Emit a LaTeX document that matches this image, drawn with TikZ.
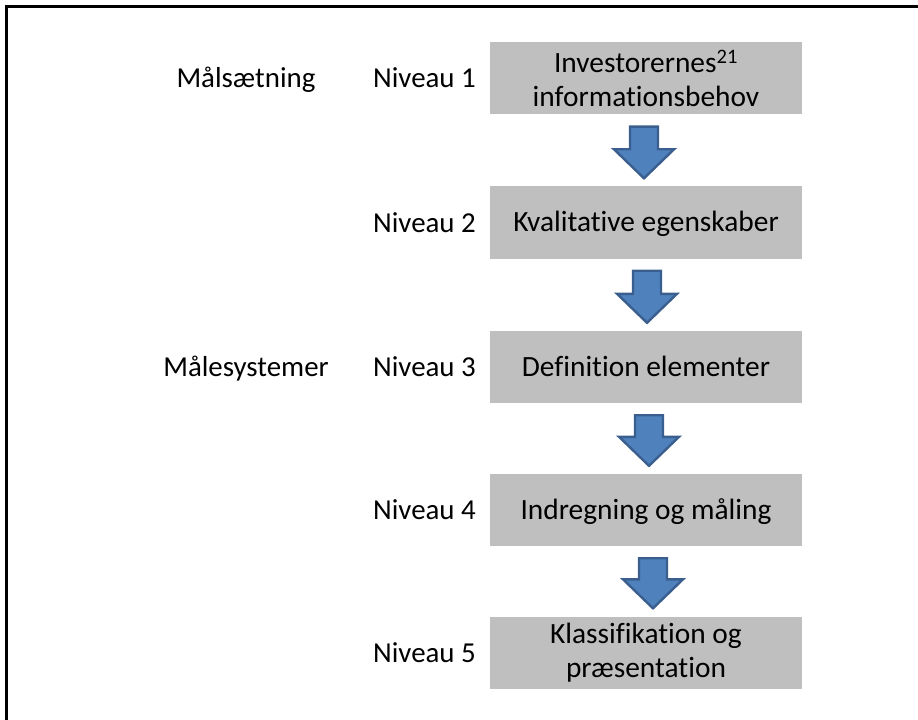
\documentclass[tikz,border=0pt]{standalone}
\usepackage{fontspec}
\setmainfont{Carlito}[Ligatures=NoCommon]
\usetikzlibrary{calc}
\definecolor{boxgray}{HTML}{BFBFBF}
\definecolor{arrowfill}{HTML}{4F81BD}
\definecolor{arrowline}{HTML}{3A5F8E}
\newcommand\blockarrow[3]{%
  \draw[barrow] let \p1=($(#1.south)+(#3,12)$), \p2=($(#2.north)+(#3,-8)$) in
    (\x1-14bp,\y1) -- (\x1+14bp,\y1) -- (\x1+14bp,\y2+29bp) -- (\x1+30bp,\y2+29bp)
    -- (\x1,\y2) -- (\x1-30bp,\y2+29bp) -- (\x1-14bp,\y2+29bp) -- cycle;}
\begin{document}
\begin{tikzpicture}[x=1bp,y=-1bp,
  lvlbox/.style={fill=boxgray, minimum width=312bp, minimum height=72bp, inner sep=0pt,
    align=center, font=\fontsize{29.5}{34}\selectfont},
  onebox/.style={lvlbox, text depth=1.5bp},
  lbl/.style={font=\fontsize{29}{34}\selectfont, inner sep=0pt},
  barrow/.style={fill=arrowfill, draw=arrowline, line width=2.4bp, line join=miter}]
\useasboundingbox (0,0) rectangle (918,720);
\draw[line width=3bp] (6.5,721) -- (6.5,6.5) -- (919,6.5);
% boxes
\node[lvlbox] (b1) at (646,78.5) {Investorernes\textsuperscript{21}\\informationsbehov};
\node[onebox] (b2) at (646,222.5) {Kvalitative egenskaber};
\node[onebox] (b3) at (646,367) {Definition elementer};
\node[onebox] (b4) at (646,510) {Indregning og måling};
\node[lvlbox] (b5) at (646,652.5) {Klassifikation og\\præsentation};
% level labels
\node[lbl, anchor=base east] (n1) at (476,88) {Niveau 1};
\node[lbl, anchor=base east] (n2) at (476,232) {Niveau 2};
\node[lbl, anchor=base east] (n3) at (476,376.5) {Niveau 3};
\node[lbl, anchor=base east] (n4) at (476,519.5) {Niveau 4};
\node[lbl, anchor=base east] (n5) at (476,662) {Niveau 5};
% group labels
\node[lbl, anchor=base] (g1) at (246,88) {Målsætning};
\node[lbl, anchor=base] (g2) at (246,376.5) {Målesystemer};
% arrows
\blockarrow{b1}{b2}{-2}
\blockarrow{b2}{b3}{1}
\blockarrow{b3}{b4}{3}
\blockarrow{b4}{b5}{7}
\end{tikzpicture}
\end{document}
